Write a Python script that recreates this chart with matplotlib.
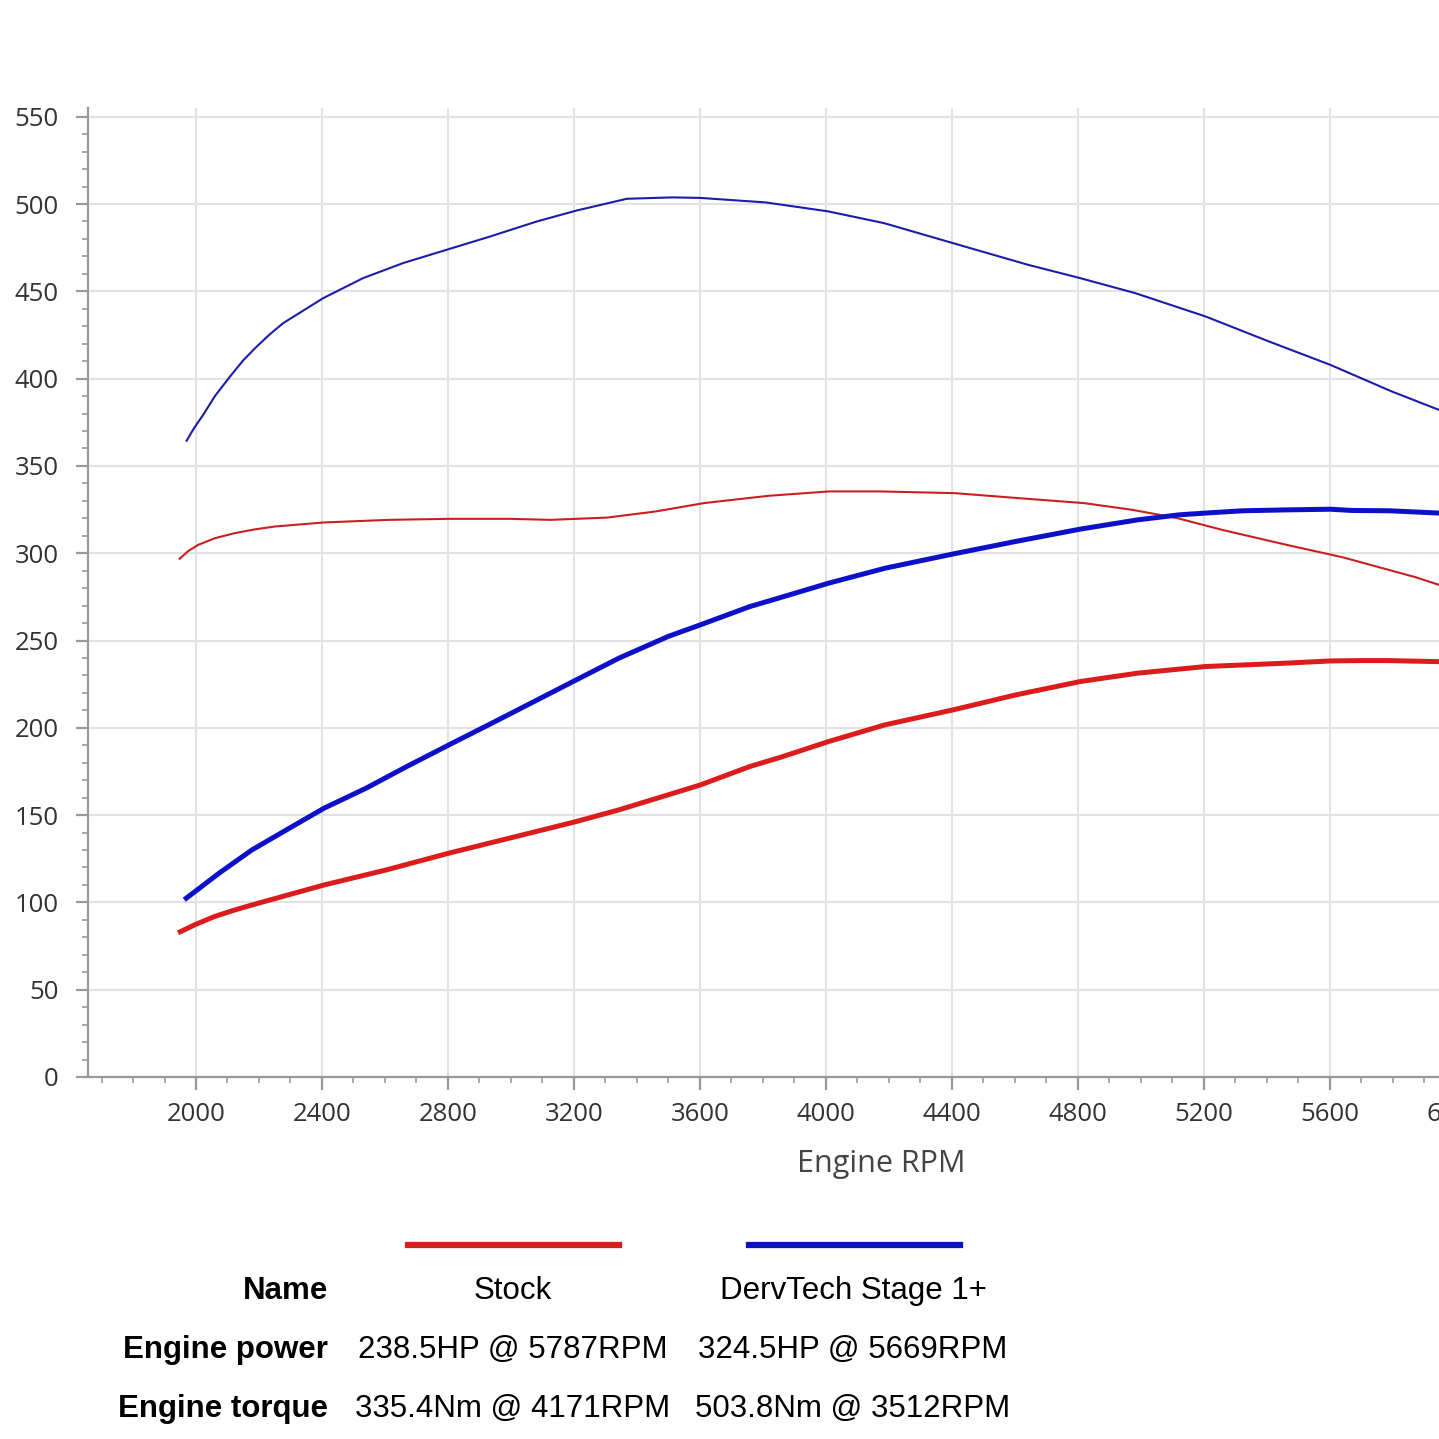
import matplotlib
matplotlib.use("Agg")
import matplotlib.pyplot as plt
from matplotlib.lines import Line2D
from matplotlib.ticker import MultipleLocator

# Stock - engine torque (Nm)
stock_torque_rpm = [1948, 1975, 2007, 2060, 2123, 2185, 2251, 2405, 2611, 2804, 2997, 3125,
                    3305, 3459, 3613, 3819, 4011, 4171, 4410, 4615, 4820, 4975, 5116, 5258,
                    5463, 5643, 5874, 5947]
stock_torque = [296.8, 301.2, 304.8, 308.6, 311.5, 313.6, 315.3, 317.6, 319.1, 319.7, 319.7, 319.1,
                320.4, 323.9, 328.7, 332.9, 335.4, 335.4, 334.4, 331.5, 328.7, 324.8, 320.1, 313.4,
                304.8, 297.6, 286.2, 281.9]

# Stock - engine power (HP)
stock_power_rpm = [1950, 2000, 2060, 2120, 2177, 2407, 2604, 2803, 3058, 3207, 3343, 3499,
                   3602, 3758, 3854, 4008, 4188, 4405, 4602, 4808, 4990, 5206, 5457, 5603,
                   5696, 5787, 5947]
stock_power = [83.2, 87.5, 92.0, 95.5, 98.5, 110.0, 118.6, 128.2, 139.6, 146.3, 153.0, 161.6,
               167.3, 177.8, 183.0, 192.1, 201.7, 210.3, 218.8, 226.5, 231.3, 235.1, 237.0, 238.3,
               238.5, 238.5, 237.9]

# DervTech Stage 1+ - engine torque (Nm)
stage_torque_rpm = [1970, 1995, 2023, 2060, 2108, 2150, 2193, 2235, 2277, 2404, 2531, 2658,
                    2796, 2934, 3082, 3209, 3368, 3512, 3602, 3810, 4007, 4184, 4404, 4642,
                    4807, 4982, 5206, 5407, 5602, 5798, 5947]
stage_torque = [364.4, 372.0, 379.3, 390.0, 401.2, 410.5, 418.4, 425.5, 431.8, 446.1, 457.6, 466.2,
                473.8, 481.4, 490.0, 496.3, 503.0, 503.8, 503.5, 500.9, 495.8, 489.1, 477.6, 465.2,
                457.6, 449.0, 435.6, 421.3, 407.9, 392.6, 382.1]

# DervTech Stage 1+ - engine power (HP)
stage_power_rpm = [1969, 2073, 2177, 2306, 2407, 2540, 2669, 2803, 2929, 3019, 3207,
                   3343, 3499, 3602, 3758, 3854, 4008, 4188, 4405, 4602, 4808, 4990,
                   5123, 5206, 5323, 5457, 5603, 5669, 5790, 5947]
stage_power = [102.4, 116.7, 130.0, 143.5, 154.0, 165.4, 177.8, 190.2, 201.7, 210.0, 227.4,
               239.9, 252.3, 259.0, 269.4, 274.5, 282.8, 291.4, 299.6, 306.7, 313.8, 319.1,
               322.0, 323.0, 324.3, 324.8, 325.2, 324.5, 324.3, 323.0]

row_names = ["Name", "Engine power", "Engine torque"]
stock_col = ["Stock", "238.5HP @ 5787RPM", "335.4Nm @ 4171RPM"]
stage_col = ["DervTech Stage 1+", "324.5HP @ 5669RPM", "503.8Nm @ 3512RPM"]

RED_THIN = "#c8201e"
RED_THICK = "#dc1c1c"
BLUE_THIN = "#1c1caa"
BLUE_THICK = "#0c10c8"

W = H = 1439
fig = plt.figure(figsize=(W / 100, H / 100), dpi=100)

# axes run past the right edge, like the cropped original
x0, x1 = 1657, 6694
px_per_rpm = 0.3149
left_px, bottom_px, top_px = 88, 1077, 108
right_px = 196 + (x1 - 2000) * px_per_rpm
ax = fig.add_axes([left_px / W, (H - bottom_px) / H,
                   (right_px - left_px) / W, (bottom_px - top_px) / H])

ax.plot(stock_torque_rpm, stock_torque, color=RED_THIN, lw=1.5, zorder=3)
ax.plot(stage_torque_rpm, stage_torque, color=BLUE_THIN, lw=1.5, zorder=3)
ax.plot(stock_power_rpm, stock_power, color=RED_THICK, lw=3.6, zorder=3)
ax.plot(stage_power_rpm, stage_power, color=BLUE_THICK, lw=3.6, zorder=3)

ax.set_xlim(x0, x1)
ax.set_ylim(0, 555)
ax.set_xticks(range(2000, 6700, 400))
ax.set_yticks(range(0, 551, 50))
ax.xaxis.set_minor_locator(MultipleLocator(100))
ax.yaxis.set_minor_locator(MultipleLocator(10))

ax.grid(True, which="major", color="#e2e2e2", lw=1.5)
ax.set_axisbelow(True)
for s in ["top", "right"]:
    ax.spines[s].set_visible(False)
for s in ["left", "bottom"]:
    ax.spines[s].set_color("#999999")
    ax.spines[s].set_linewidth(1.6)

ax.tick_params(axis="both", which="major", direction="out", color="#999999",
               width=1.6, length=9, labelsize=18.5, labelcolor="#333333")
ax.tick_params(axis="y", which="major", pad=12)
ax.tick_params(axis="x", which="major", pad=9)
ax.tick_params(axis="both", which="minor", direction="out", color="#999999",
               width=1.2, length=4.5)
for lbl in ax.get_xticklabels() + ax.get_yticklabels():
    lbl.set_fontfamily("Open Sans")

ax.set_xlabel("Engine RPM", fontsize=22, color="#444444", family="Open Sans",
              labelpad=16)

# legend / summary table below the chart
fig.add_artist(Line2D([408 / W, 619 / W], [1 - 1245 / H] * 2, color=RED_THICK, lw=4.5))
fig.add_artist(Line2D([749 / W, 960 / W], [1 - 1245 / H] * 2, color=BLUE_THICK, lw=4.5))

row_y = [1291, 1350, 1409]
for i, y in enumerate(row_y):
    fy = 1 - y / H
    fig.text(328 / W, fy, row_names[i], ha="right", va="center", fontsize=22.5,
             fontweight="bold", family="Liberation Sans", color="black")
    fig.text(513 / W, fy, stock_col[i], ha="center", va="center", fontsize=22.5,
             family="Liberation Sans", color="black")
    fig.text(853 / W, fy, stage_col[i], ha="center", va="center", fontsize=22.5,
             family="Liberation Sans", color="black")

fig.savefig("out.png", dpi=100, facecolor="white")
